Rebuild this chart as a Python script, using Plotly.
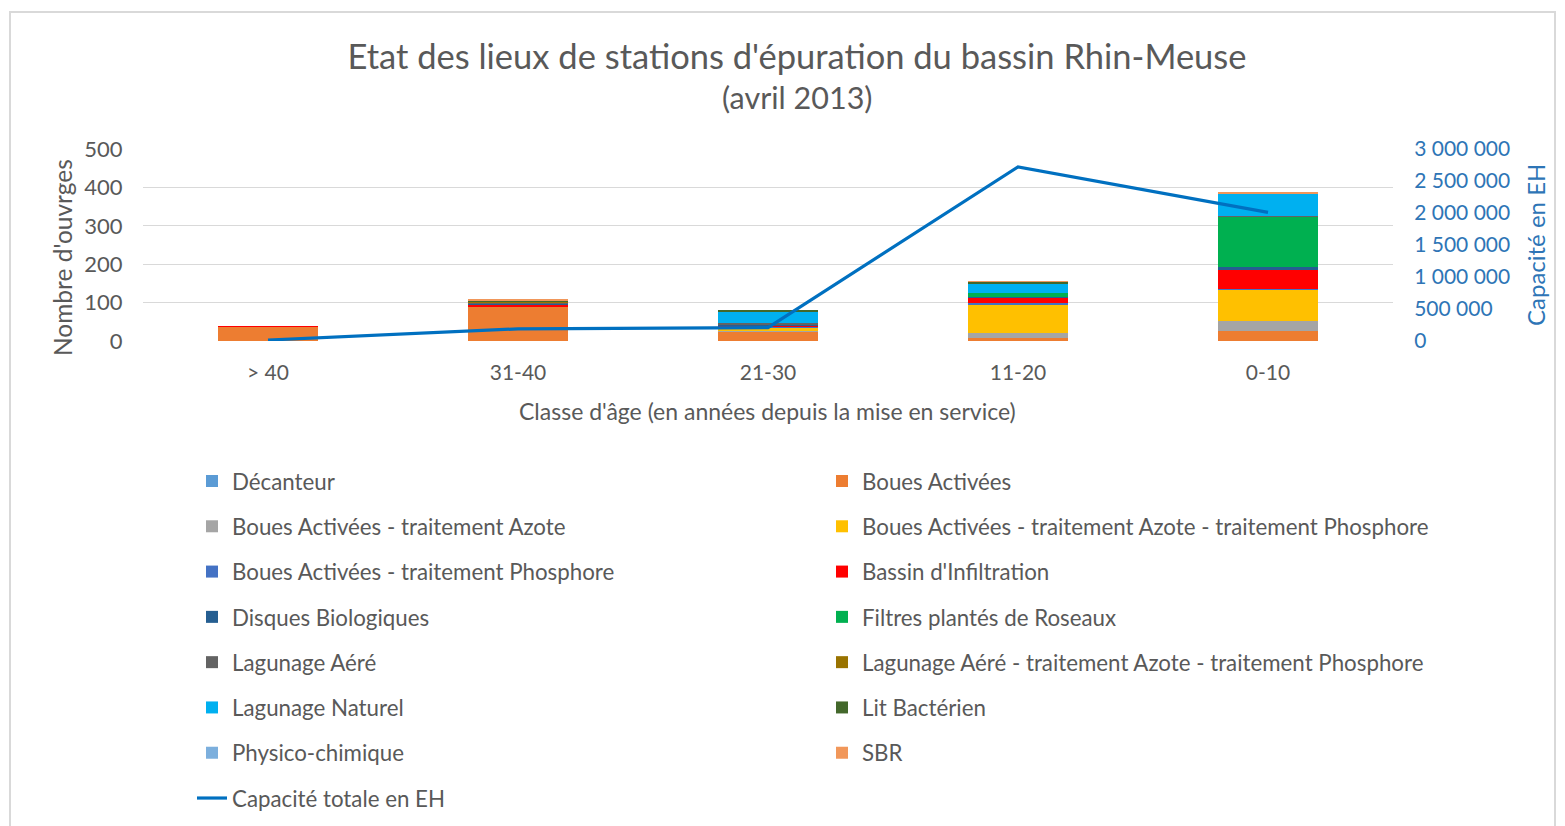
import plotly.graph_objects as go

categories = ["> 40", "31-40", "21-30", "11-20", "0-10"]

series_names = [
    "Décanteur",
    "Boues Activées",
    "Boues Activées - traitement Azote",
    "Boues Activées - traitement Azote - traitement Phosphore",
    "Boues Activées - traitement Phosphore",
    "Bassin d'Infiltration",
    "Disques Biologiques",
    "Filtres plantés de Roseaux",
    "Lagunage Aéré",
    "Lagunage Aéré - traitement Azote - traitement Phosphore",
    "Lagunage Naturel",
    "Lit Bactérien",
    "Physico-chimique",
    "SBR",
]

decanteur = [0, 1, 0, 0, 0]
boues_activees = [37, 88, 24, 7, 27]
ba_azote = [0, 1, 3, 14, 26]
ba_azote_phosphore = [0, 0, 8, 73, 81]
ba_phosphore = [0, 1, 2, 4, 2]
bassin_infiltration = [2, 3, 4, 15, 50]
disques_bio = [0, 4, 3, 2, 8]
filtres_roseaux = [0, 0, 0, 10, 130]
lagunage_aere = [0, 3, 2, 1, 1]
lagunage_aere_np = [0, 1, 0, 0, 0]
lagunage_naturel = [0, 1, 31, 24, 58]
lit_bacterien = [0, 3, 2, 5, 1]
physico_chimique = [0, 0, 0, 0, 0]
sbr = [0, 1, 0, 1, 2]

capacite_totale = [15000, 190000, 210000, 2720000, 2010000]

right_tickvals = [0, 500000, 1000000, 1500000, 2000000, 2500000, 3000000]
right_ticktext = ["0", "500 000", "1 000 000", "1 500 000", "2 000 000", "2 500 000", "3 000 000"]

series_values = [
    decanteur, boues_activees, ba_azote, ba_azote_phosphore, ba_phosphore,
    bassin_infiltration, disques_bio, filtres_roseaux, lagunage_aere,
    lagunage_aere_np, lagunage_naturel, lit_bacterien, physico_chimique, sbr,
]

colors = [
    "#5B9BD5", "#ED7D31", "#A5A5A5", "#FFC000", "#4472C4", "#FF0000",
    "#255E91", "#00B050", "#636363", "#997300", "#00B0F0", "#43682B",
    "#7CAFDD", "#F1975A",
]

FONT = "Lato"
GREY = "#595959"
BLUE = "#0070C0"
AXBLUE = "#2E75B6"

fig = go.Figure()
for i, (name, vals, col) in enumerate(zip(series_names, series_values, colors)):
    fig.add_trace(go.Bar(
        x=categories, y=vals, name=name, marker=dict(color=col, line=dict(width=0)),
        legend="legend" if i % 2 == 0 else "legend2",
        legendgroup=name,
    ))

fig.add_trace(go.Scatter(
    x=categories, y=capacite_totale, name="Capacité totale en EH", yaxis="y2",
    mode="lines", line=dict(color=BLUE, width=3.2),
    legend="legend", legendgroup="cap",
))

# page body has an 8px margin; figure coordinates = screen - 8
OFF = 8
W, H = 1565 - OFF, 826 - OFF
L, R, T, B = 143 - OFF, 1393 - OFF, 149 - OFF, 341 - OFF


def px_x(sx):
    return (sx - OFF - L) / (R - L)


def px_y(sy):
    return (B - (sy - OFF)) / (B - T)


leg_common = dict(
    font=dict(family=FONT, size=22.3, color=GREY),
    bgcolor="rgba(0,0,0,0)",
    traceorder="grouped",
    tracegroupgap=13.3,
    itemwidth=30,
    xref="container", yref="container",
    xanchor="left", yanchor="top",
)

annotations = [
    dict(text="(avril 2013)", x=px_x(797), y=px_y(97), xref="paper", yref="paper",
         showarrow=False, xanchor="center", yanchor="middle",
         font=dict(family=FONT, size=30.5, color=GREY)),
    dict(text="Classe d'âge (en années depuis la mise en service)", x=px_x(767), y=px_y(411),
         xref="paper", yref="paper", showarrow=False, xanchor="center", yanchor="middle",
         font=dict(family=FONT, size=23, color=GREY)),
    dict(text="Nombre d'ouvrges", x=px_x(62), y=px_y(258), xref="paper", yref="paper",
         showarrow=False, xanchor="center", yanchor="middle", textangle=-90,
         font=dict(family=FONT, size=24.5, color=GREY)),
    dict(text="Capacité en EH", x=px_x(1535), y=px_y(245), xref="paper", yref="paper",
         showarrow=False, xanchor="center", yanchor="middle", textangle=-90,
         font=dict(family=FONT, size=24, color=AXBLUE)),
]

fig.update_layout(
    width=W, height=H,
    margin=dict(l=L, r=W - R, t=T, b=H - B, autoexpand=False),
    paper_bgcolor="white", plot_bgcolor="white",
    barmode="stack", bargap=0.6,
    font=dict(family=FONT, color=GREY),
    title=dict(
        text="Etat des lieux de stations d'épuration du bassin Rhin-Meuse",
        x=(797 - OFF) / W, xanchor="center", xref="container",
        y=1 - (57 - OFF) / H, yanchor="middle", yref="container",
        font=dict(family=FONT, size=34.5, color=GREY),
    ),
    xaxis=dict(
        tickfont=dict(family=FONT, size=21, color=GREY),
        showline=False, ticks="outside", ticklen=13, tickcolor="rgba(0,0,0,0)",
    ),
    yaxis=dict(
        range=[0, 500], dtick=100,
        tickfont=dict(family=FONT, size=22, color=GREY),
        gridcolor="#D9D9D9", gridwidth=1, zeroline=False,
        ticks="outside", ticklen=15, tickcolor="rgba(0,0,0,0)",
    ),
    yaxis2=dict(
        overlaying="y", side="right", range=[0, 3000000],
        tickvals=right_tickvals, ticktext=right_ticktext,
        tickfont=dict(family=FONT, size=21, color=AXBLUE),
        showgrid=False, zeroline=False,
        ticks="outside", ticklen=16, tickcolor="rgba(0,0,0,0)",
    ),
    legend=dict(x=(232 - 40 - OFF) / W, y=1 - (481 - 21 - OFF) / H, **leg_common),
    legend2=dict(x=(862 - 40 - OFF) / W, y=1 - (481 - 21 - OFF) / H, **leg_common),
    annotations=annotations,
    shapes=[dict(
        type="rect", xref="paper", yref="paper",
        x0=px_x(10), x1=px_x(1555),
        y0=px_y(840), y1=px_y(12),
        line=dict(color="#D9D9D9", width=2), fillcolor="rgba(0,0,0,0)", layer="below",
    )],
)

fig.write_html("out.html")
